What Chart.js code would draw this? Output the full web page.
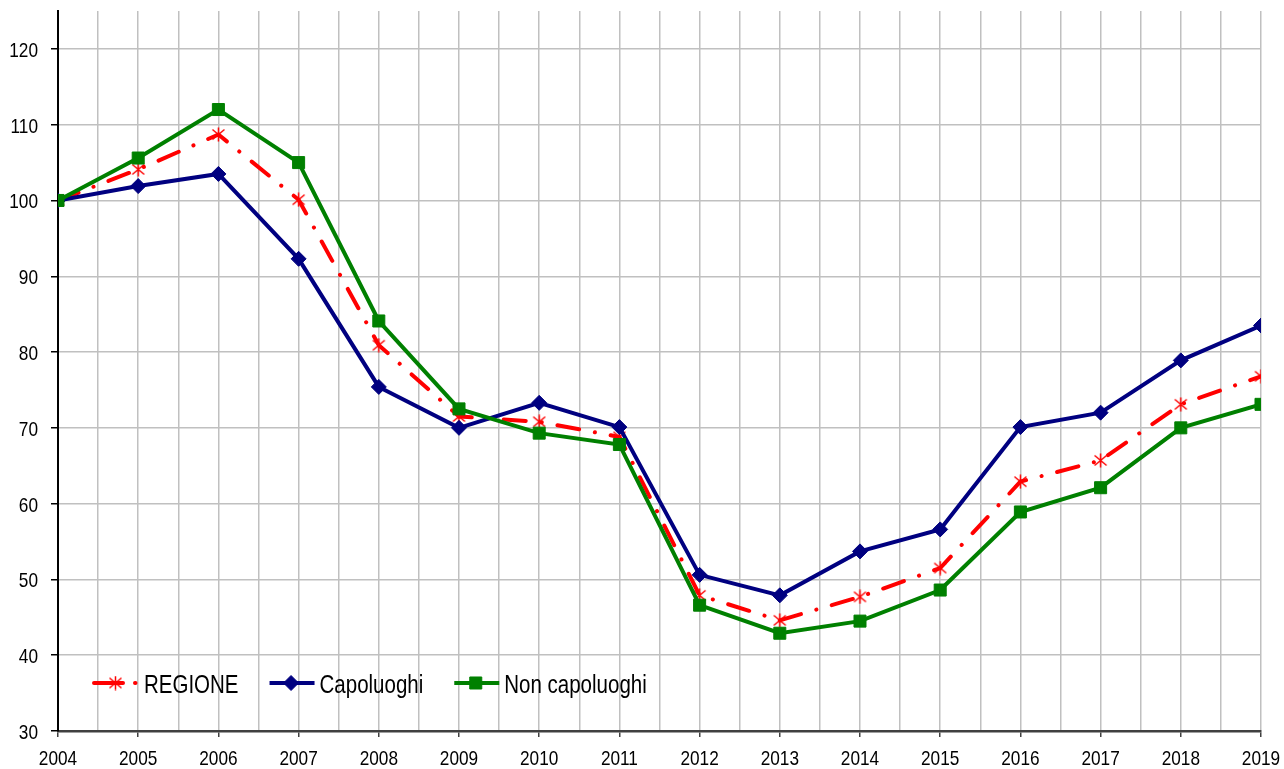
<!DOCTYPE html>
<html>
<head>
<meta charset="utf-8">
<script src="https://cdn.jsdelivr.net/npm/chart.js@4/dist/chart.umd.min.js"></script>
<style>
  body { margin: 0; background: #fff; }
  #wrap { width: 1284px; height: 769px; position: relative; }
</style>
</head>
<body>
<div id="wrap"><canvas id="chart"></canvas></div>
<script>
// dati (indice 2004 = 100)
const years = [2004, 2005, 2006, 2007, 2008, 2009, 2010, 2011, 2012, 2013, 2014, 2015, 2016, 2017, 2018, 2019];
const regione = [100, 104.1, 108.7, 100.1, 80.9, 71.5, 70.8, 68.8, 47.9, 44.6, 47.7, 51.5, 62.9, 65.7, 73.1, 76.8];
const capoluoghi = [100, 101.9, 103.5, 92.3, 75.4, 70.0, 73.3, 70.1, 50.6, 47.9, 53.7, 56.6, 70.1, 72.0, 78.9, 83.5];
const nonCapoluoghi = [100, 105.6, 112.0, 105.0, 84.1, 72.5, 69.3, 67.8, 46.6, 42.9, 44.5, 48.6, 58.9, 62.1, 70.0, 73.1];
const yTicks = [30, 40, 50, 60, 70, 80, 90, 100, 110, 120];

// testo tipo Arial Narrow: Liberation Sans schiacciato in orizzontale
const FONT = "'Liberation Sans', Arial, sans-serif";
const SQUEEZE = 0.82;

function toPoints(values) {
    return values.map((v, i) => ({ x: years[i], y: v }));
}

// asterisco (X + linea verticale) come nel grafico originale
function makeStar() {
    const c = document.createElement('canvas');
    c.width = 15; c.height = 15;
    const g = c.getContext('2d');
    g.strokeStyle = '#ff0000';
    g.lineWidth = 1.5;
    g.beginPath();
    g.moveTo(1.5, 2.5); g.lineTo(13.5, 12.5);
    g.moveTo(1.5, 12.5); g.lineTo(13.5, 2.5);
    g.moveTo(7.5, 0.5); g.lineTo(7.5, 14.5);
    g.stroke();
    return c;
}
const starImg = makeStar();

function squeezedText(ctx, text, x, y, align) {
    ctx.save();
    ctx.translate(x, y);
    ctx.scale(SQUEEZE, 1);
    ctx.textAlign = align;
    ctx.fillText(text, 0, 0);
    ctx.restore();
}

// etichette degli assi disegnate a mano (font stretto)
const axisLabels = {
    id: 'axisLabels',
    afterDraw(chart) {
        const ctx = chart.ctx;
        const xs = chart.scales.x, ys = chart.scales.y;
        ctx.save();
        ctx.fillStyle = '#000';
        ctx.font = '21px ' + FONT;
        ctx.textBaseline = 'alphabetic';
        years.forEach(yr => {
            squeezedText(ctx, String(yr), xs.getPixelForValue(yr), xs.top + 34, 'center');
        });
        yTicks.forEach(v => {
            squeezedText(ctx, String(v), ys.right - 20, ys.getPixelForValue(v) + 8, 'right');
        });
        ctx.restore();
    }
};

// legenda dentro l'area del grafico, in basso a sinistra
const innerLegend = {
    id: 'innerLegend',
    afterDatasetsDraw(chart) {
        const ctx = chart.ctx;
        let x = chart.chartArea.left + 34;
        const y = 683;
        ctx.save();
        ctx.font = '25px ' + FONT;
        chart.data.datasets.forEach(ds => {
            ctx.save();
            ctx.strokeStyle = ds.borderColor;
            ctx.lineWidth = ds.borderWidth;
            ctx.lineCap = ds.borderCapStyle || 'butt';
            ctx.setLineDash(ds.borderDash ? [29, 12, 0.5, 20] : []);
            ctx.beginPath();
            ctx.moveTo(x + 2, y);
            ctx.lineTo(x + 47, y);
            ctx.stroke();
            ctx.setLineDash([]);
            if (ds.pointStyle instanceof HTMLCanvasElement) {
                ctx.drawImage(ds.pointStyle, x + 23.5 - 7.5, y - 7.5);
            } else {
                ctx.fillStyle = ds.pointBackgroundColor;
                ctx.strokeStyle = ds.pointBorderColor;
                ctx.lineWidth = ds.pointBorderWidth;
                Chart.helpers.drawPoint(ctx, {
                    pointStyle: ds.pointStyle,
                    radius: ds.pointRadius,
                    borderWidth: ds.pointBorderWidth,
                    rotation: 0
                }, x + 23.5, y);
            }
            ctx.restore();
            ctx.fillStyle = '#000';
            squeezedText(ctx, ds.label, x + 52, y + 10, 'left');
            x = x + 52 + ctx.measureText(ds.label).width * SQUEEZE + 29;
        });
        ctx.restore();
    }
};

new Chart(document.getElementById('chart'), {
    type: 'line',
    data: {
        datasets: [{
            label: 'REGIONE',
            data: toPoints(regione),
            borderColor: '#ff0000',
            borderWidth: 4,
            borderDash: [22, 16, 0.1, 16],
            borderCapStyle: 'round',
            pointStyle: starImg,
            pointRadius: 7,
            pointBorderWidth: 1.5,
            pointBorderColor: '#ff0000',
            pointBackgroundColor: '#ff0000',
            tension: 0,
            order: 3
        }, {
            label: 'Capoluoghi',
            data: toPoints(capoluoghi),
            borderColor: '#000080',
            borderWidth: 4,
            pointStyle: 'rectRot',
            pointRadius: 7.5,
            pointBorderWidth: 1,
            pointBorderColor: '#000080',
            pointBackgroundColor: '#000080',
            tension: 0,
            order: 2
        }, {
            label: 'Non capoluoghi',
            data: toPoints(nonCapoluoghi),
            borderColor: '#008000',
            borderWidth: 4,
            pointStyle: 'rect',
            pointRadius: 8.5,
            pointBorderWidth: 1,
            pointBorderColor: '#008000',
            pointBackgroundColor: '#008000',
            tension: 0,
            order: 1
        }]
    },
    options: {
        responsive: true,
        maintainAspectRatio: false,
        animation: false,
        layout: { padding: { top: 11, right: 23, left: 0, bottom: 0 } },
        plugins: {
            legend: { display: false },
            tooltip: { enabled: false }
        },
        scales: {
            x: {
                type: 'linear',
                min: years[0],
                max: years[years.length - 1],
                afterBuildTicks: scale => {
                    const t = [];
                    years.forEach((yr, i) => {
                        t.push({ value: yr });
                        if (i < years.length - 1) t.push({ value: yr + 0.5 });
                    });
                    scale.ticks = t;
                },
                afterFit: scale => { scale.height = 38; },
                ticks: { display: false },
                grid: {
                    color: '#c0c0c0',
                    lineWidth: 1.5,
                    tickLength: 6,
                    tickColor: c => (c.tick && Number.isInteger(c.tick.value)) ? '#404040' : 'rgba(0,0,0,0)'
                },
                border: { color: '#404040', width: 2.5 }
            },
            y: {
                min: 30,
                max: 125,
                afterBuildTicks: scale => {
                    scale.ticks = yTicks.map(v => ({ value: v }));
                },
                afterFit: scale => { scale.width = 58; },
                ticks: { display: false },
                grid: {
                    color: '#c0c0c0',
                    lineWidth: 1.5,
                    tickLength: 7,
                    tickColor: '#000'
                },
                border: { color: '#000', width: 2 }
            }
        }
    },
    plugins: [innerLegend, axisLabels]
});
</script>
</body>
</html>
